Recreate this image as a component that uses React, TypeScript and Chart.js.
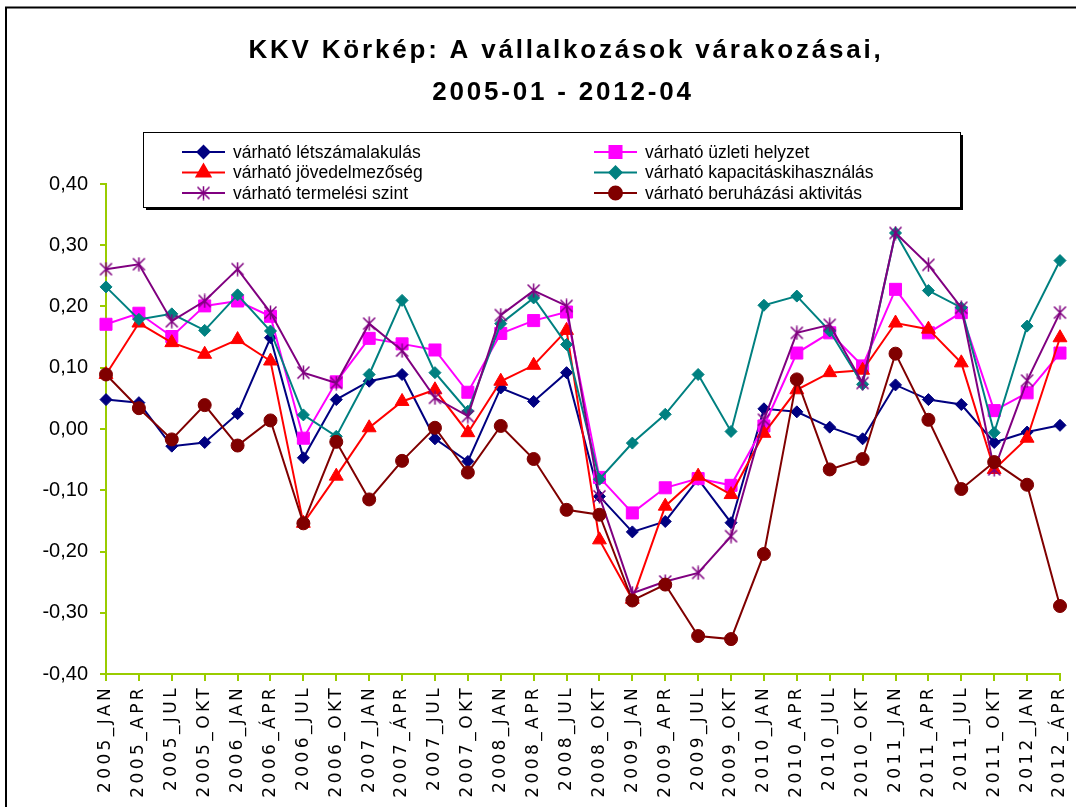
import React, { useEffect, useRef } from 'react';
import { Chart, registerables, CategoryScale } from 'chart.js';
import { drawPoint } from 'chart.js/helpers';

Chart.register(...registerables);

class SpacedCategoryScale extends CategoryScale {
  static id = 'spacedCategory';
  static defaults = CategoryScale.defaults;
  drawLabels(area: any) {
    const ctx: any = this.ctx;
    ctx.save();
    ctx.letterSpacing = '3.4px';
    super.drawLabels(area);
    ctx.restore();
  }
}
Chart.register(SpacedCategoryScale as any);

const categories = [
  '2005_JAN', '2005_APR', '2005_JUL', '2005_OKT',
  '2006_JAN', '2006_ÁPR', '2006_JUL', '2006_OKT',
  '2007_JAN', '2007_ÁPR', '2007_JUL', '2007_OKT',
  '2008_JAN', '2008_APR', '2008_JUL', '2008_OKT',
  '2009_JAN', '2009_APR', '2009_JUL', '2009_OKT',
  '2010_JAN', '2010_APR', '2010_JUL', '2010_OKT',
  '2011_JAN', '2011_APR', '2011_JUL', '2011_OKT',
  '2012_JAN', '2012_ÁPR',
];

const letszam = [0.048, 0.043, -0.028, -0.022, 0.025, 0.149, -0.047, 0.048, 0.078, 0.089, -0.016, -0.053, 0.067, 0.045, 0.092, -0.110, -0.168, -0.151, -0.082, -0.153, 0.033, 0.028, 0.003, -0.016, 0.072, 0.048, 0.040, -0.022, -0.005, 0.006];
const uzleti = [0.171, 0.189, 0.151, 0.201, 0.209, 0.184, -0.015, 0.077, 0.148, 0.139, 0.129, 0.060, 0.156, 0.177, 0.191, -0.079, -0.137, -0.096, -0.081, -0.092, 0.005, 0.124, 0.157, 0.103, 0.228, 0.157, 0.190, 0.030, 0.059, 0.124];
const jovedelmezoseg = [0.089, 0.173, 0.141, 0.122, 0.146, 0.111, -0.154, -0.077, 0.002, 0.045, 0.064, -0.006, 0.078, 0.104, 0.161, -0.181, -0.278, -0.126, -0.077, -0.107, -0.007, 0.064, 0.092, 0.096, 0.173, 0.163, 0.108, -0.066, -0.015, 0.149];
const kapacitas = [0.232, 0.179, 0.188, 0.161, 0.219, 0.160, 0.023, -0.012, 0.089, 0.210, 0.092, 0.029, 0.172, 0.214, 0.138, -0.082, -0.023, 0.024, 0.089, -0.004, 0.202, 0.217, 0.160, 0.073, 0.320, 0.226, 0.198, -0.006, 0.168, 0.275];
const termelesi = [0.261, 0.269, 0.176, 0.209, 0.261, 0.190, 0.092, 0.075, 0.172, 0.128, 0.051, 0.021, 0.186, 0.226, 0.201, -0.110, -0.268, -0.249, -0.235, -0.175, 0.015, 0.157, 0.170, 0.075, 0.320, 0.268, 0.198, -0.066, 0.079, 0.190];
const beruhazasi = [0.089, 0.034, -0.017, 0.039, -0.027, 0.014, -0.154, -0.021, -0.115, -0.052, 0.002, -0.071, 0.005, -0.049, -0.132, -0.140, -0.280, -0.254, -0.338, -0.343, -0.204, 0.081, -0.066, -0.049, 0.123, 0.015, -0.098, -0.054, -0.091, -0.289];

const seriesNames = [
  'várható létszámalakulás',
  'várható üzleti helyzet',
  'várható jövedelmezőség',
  'várható kapacitáskihasználás',
  'várható termelési szint',
  'várható beruházási aktivitás',
];

const titleLines = ['KKV Körkép: A vállalkozások várakozásai,', '2005-01 - 2012-04'];

const AXIS = '#99CC00';

function makeStar(color: string) {
  const c = document.createElement('canvas');
  c.width = 15;
  c.height = 15;
  const g = c.getContext('2d')!;
  g.strokeStyle = color;
  g.lineWidth = 1.5;
  g.beginPath();
  g.moveTo(7.5, 0.5); g.lineTo(7.5, 14.5);
  g.moveTo(1.5, 1.5); g.lineTo(13.5, 13.5);
  g.moveTo(13.5, 1.5); g.lineTo(1.5, 13.5);
  g.stroke();
  return c;
}

const customPlugin = {
  id: 'custom',
  beforeDraw(chart: any) {
    const ctx = chart.ctx;
    ctx.save();
    ctx.fillStyle = '#fff';
    ctx.fillRect(0, 0, chart.width, chart.height);
    // frame
    ctx.strokeStyle = '#000';
    ctx.lineWidth = 2;
    ctx.beginPath();
    ctx.moveTo(6, chart.height);
    ctx.lineTo(6, 7.5);
    ctx.lineTo(chart.width, 7.5);
    ctx.stroke();
    // title
    ctx.fillStyle = '#000';
    ctx.font = 'bold 26px "Liberation Sans", Arial, sans-serif';
    ctx.textAlign = 'center';
    ctx.textBaseline = 'middle';
    (ctx as any).letterSpacing = '2.8px';
    ctx.fillText(titleLines[0], 566, 51);
    ctx.fillText(titleLines[1], 563, 93);
    (ctx as any).letterSpacing = '0px';
    // legend box
    ctx.strokeStyle = '#000';
    ctx.lineWidth = 1;
    ctx.strokeRect(143.5, 132.5, 817, 75);
    ctx.lineWidth = 2;
    ctx.beginPath();
    ctx.moveTo(146, 209);
    ctx.lineTo(962, 209);
    ctx.lineTo(962, 135);
    ctx.stroke();
    ctx.restore();
  },
  afterDraw(chart: any) {
    const ctx = chart.ctx;
    ctx.save();
    ctx.font = '17.5px "Liberation Sans", Arial, sans-serif';
    ctx.textBaseline = 'middle';
    ctx.textAlign = 'left';
    const rows = [152, 172.5, 193];
    chart.data.datasets.forEach((ds: any, i: number) => {
      const col = i % 2;
      const row = Math.floor(i / 2);
      const y = rows[row];
      const x0 = col === 0 ? 182 : 594;
      const x1 = x0 + 43;
      const xm = (x0 + x1) / 2;
      ctx.strokeStyle = ds.borderColor;
      ctx.lineWidth = 2;
      ctx.beginPath();
      ctx.moveTo(x0, y);
      ctx.lineTo(x1, y);
      ctx.stroke();
      ctx.fillStyle = ds.pointBackgroundColor;
      ctx.strokeStyle = ds.pointBorderColor;
      drawPoint(ctx, { pointStyle: ds.pointStyle, radius: ds.pointRadius, rotation: 0, borderWidth: 1 } as any, xm, y);
      ctx.fillStyle = '#000';
      ctx.fillText(ds.label, x1 + 8, y + 1);
    });
    ctx.restore();
  },
};

export default function App() {
  const ref = useRef<HTMLCanvasElement>(null);
  useEffect(() => {
    if (!ref.current) return;
    const star = makeStar('#800080');
    const mk = (label: string, data: number[], color: string, style: any, radius: number) => ({
      label,
      data,
      borderColor: color,
      backgroundColor: color,
      pointBackgroundColor: color,
      pointBorderColor: color,
      borderWidth: 2,
      pointStyle: style,
      pointRadius: radius,
      pointBorderWidth: 1,
      tension: 0,
    });
    const datasets = [
      { ...mk(seriesNames[0], letszam, '#000080', 'rectRot', 6), order: 6 },
      { ...mk(seriesNames[1], uzleti, '#FF00FF', 'rect', 8.5), order: 5 },
      { ...mk(seriesNames[2], jovedelmezoseg, '#FF0000', 'triangle', 8), order: 4 },
      { ...mk(seriesNames[3], kapacitas, '#008080', 'rectRot', 6), order: 3 },
      { ...mk(seriesNames[4], termelesi, '#800080', star, 7), order: 2 },
      { ...mk(seriesNames[5], beruhazasi, '#800000', 'circle', 6.5), order: 1 },
    ];
    const chart = new Chart(ref.current, {
      type: 'line',
      data: { labels: categories, datasets },
      options: {
        animation: false,
        responsive: false,
        layout: { padding: { top: 184, right: 16, left: 0, bottom: 0 } },
        plugins: { legend: { display: false }, title: { display: false }, tooltip: { enabled: false } },
        scales: {
          x: {
            type: 'spacedCategory' as any,
            offset: false,
            ticks: {
              autoSkip: false,
              minRotation: 90,
              maxRotation: 90,
              color: '#000',
              padding: 4,
              font: { family: '"DejaVu Sans", sans-serif', size: 17 },
            },
            grid: { drawOnChartArea: false, drawTicks: true, tickLength: 7, color: AXIS, lineWidth: 2 },
            border: { color: AXIS, width: 2 },
            afterFit: (s: any) => { s.height = 133; s.paddingLeft = 0; s.paddingRight = 0; },
          },
          y: {
            min: -0.4,
            max: 0.4,
            ticks: {
              stepSize: 0.1,
              color: '#000',
              padding: 12,
              font: { family: '"Liberation Sans", Arial, sans-serif', size: 20 },
              callback: (v: any) => (Math.round(Number(v) * 100) / 100).toFixed(2).replace('.', ','),
            },
            grid: { drawOnChartArea: false, drawTicks: true, tickLength: 6, color: AXIS, lineWidth: 2 },
            border: { color: AXIS, width: 2 },
            afterFit: (s: any) => { s.width = 106; s.paddingTop = 0; s.paddingBottom = 0; },
          },
        },
      },
      plugins: [customPlugin],
    } as any);
    return () => chart.destroy();
  }, []);
  return (
    <div style={{ position: 'absolute', left: 0, top: 0, width: 1076, height: 807 }}>
      <canvas ref={ref} width={1076} height={807} style={{ display: 'block' }} />
    </div>
  );
}
